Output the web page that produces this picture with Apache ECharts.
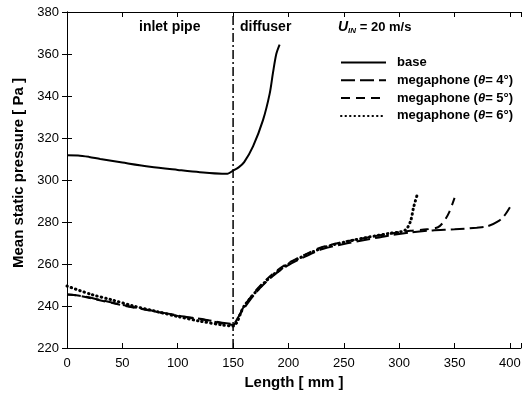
<!DOCTYPE html>
<html><head><meta charset="utf-8">
<script src="https://cdn.jsdelivr.net/npm/echarts@6/dist/echarts.min.js"></script>
<style>html,body{margin:0;padding:0;background:#fff}#c{width:530px;height:401px}</style>
</head><body><div id="c"></div>
<script>
// ---- data ----
const baseX = [0,10,20,30,50,75,100,120,140,145,150,155,160,168,177,183,186,189,192];
const baseY = [311.8,311.7,311,310,308.3,306.3,304.8,303.7,303,303,304.5,306,308.5,316,328.5,341,351,360,364.5];

const m4X = [0,10,25,50,75,100,125,140,150,155,160,170,180,190,200,215,230,250,270,290,310,330,350,370,380,390,395,400];
const m4Y = [245.5,245,243.5,240.5,238,235.5,233.5,232,231.5,235,239,246,251.5,256,259.5,263.5,267,269.5,271.5,273.5,275,276,276.5,277.3,278,280.5,283,287];

const m5X = [0,10,25,50,75,100,125,140,150,155,160,170,180,190,200,215,230,250,270,290,310,325,335,340,345,350];
const m5Y = [245.5,245,243.3,240.3,237.8,235.3,233.3,231.8,231,235,240,247,252.5,257,260.5,264.5,268,270.5,272.5,274.3,275.8,276.5,277.5,280,284.5,291.5];

const m6X = [0,22,40,60,80,100,120,140,150,160,180,200,230,260,290,305,310,313,316];
const m6Y = [249.5,245.5,243,240,237.5,235,232.8,231,230.5,240,252,260,267.5,271.5,274.5,276,280,287,292.5];

const divX = [150,150];
const divY = [220,380];

const xTicks = [0,50,100,150,200,250,300,350,400];
const yTicks = [220,240,260,280,300,320,340,360,380];

const seriesNames = ['base','megaphone (θ= 4°)','megaphone (θ= 5°)','megaphone (θ= 6°)'];

const zip = (a,b)=>a.map((v,i)=>[v,b[i]]);

const chart = echarts.init(document.getElementById('c'));
const FF = '"Liberation Sans", Arial, sans-serif';
const axisCommon = {
  axisLine:{show:true,lineStyle:{color:'#000',width:1}},
  axisTick:{show:true,inside:true,length:5,lineStyle:{color:'#000'}},
  splitLine:{show:false}
};
chart.setOption({
  animation:false,
  backgroundColor:'#fff',
  color:['#000','#000','#000','#000','#000'],
  textStyle:{fontFamily:FF},
  grid:{left:67,right:9,top:12,bottom:53},
  xAxis:[{
    type:'value',min:0,max:410,interval:50,
    ...axisCommon,
    axisLabel:{color:'#000',fontSize:13,fontFamily:FF,margin:9,
      formatter:v=>xTicks.includes(v)?String(v):''},
    name:'Length [ mm ]',nameLocation:'middle',nameGap:27,
    nameTextStyle:{color:'#000',fontSize:15,fontWeight:'bold',fontFamily:FF}
  },{
    type:'value',min:0,max:410,interval:50,position:'top',
    ...axisCommon,axisLabel:{show:false}
  }],
  yAxis:[{
    type:'value',min:220,max:380,interval:20,
    ...axisCommon,
    axisLabel:{color:'#000',fontSize:13,fontFamily:FF,margin:8,
      formatter:v=>yTicks.includes(v)?String(v):''},
    name:'Mean static pressure [ Pa ]',nameLocation:'middle',nameGap:36,
    nameTextStyle:{color:'#000',fontSize:15,fontWeight:'bold',fontFamily:FF,padding:[0,0,0,14]}
  },{
    type:'value',min:220,max:380,interval:20,position:'right',
    ...axisCommon,axisLabel:{show:false}
  }],
  legend:{
    data:seriesNames,
    orient:'vertical',left:335,top:51,
    itemWidth:45,itemHeight:12,itemGap:4.8,
    itemStyle:{color:'transparent',borderColor:'transparent',borderWidth:0},
    formatter:n=>{
      const m=n.match(/^(megaphone \()θ(= \d°\))$/);
      if(m) return '{n|'+m[1]+'}{i|θ}{n|'+m[2]+'}';
      return '{n|'+n+'}';
    },
    textStyle:{color:'#000',fontSize:13,fontFamily:FF,padding:[0,0,0,6],
      rich:{n:{fontWeight:'bold',fontSize:13,fontFamily:FF,color:'#000'},
            i:{fontWeight:'bold',fontStyle:'italic',fontSize:13,fontFamily:FF,color:'#000'}}}
  },
  graphic:[
    {type:'text',left:139,top:20,style:{text:'inlet pipe',font:'bold 14px "Liberation Sans", Arial',fill:'#000'}},
    {type:'text',left:240,top:20,style:{text:'diffuser',font:'bold 14px "Liberation Sans", Arial',fill:'#000'}},
    {type:'text',left:338,top:20,style:{
      rich:{u:{font:'bold italic 14px "Liberation Sans", Arial',fill:'#000'},
            s:{font:'bold italic 8px "Liberation Sans", Arial',fill:'#000',padding:[8,0,0,0]},
            t:{font:'bold 13px "Liberation Sans", Arial',fill:'#000'}},
      text:'{u|U}{s|IN}{t| = 20 m/s}'}}
  ],
  series:[
    {name:'base',type:'line',data:zip(baseX,baseY),symbol:'none',smooth:0.3,
      lineStyle:{color:'#000',width:2}},
    {name:seriesNames[1],type:'line',data:zip(m4X,m4Y),symbol:'none',smooth:0.3,
      lineStyle:{color:'#000',width:2,type:[14,5]}},
    {name:seriesNames[2],type:'line',data:zip(m5X,m5Y),symbol:'none',smooth:0.3,
      lineStyle:{color:'#000',width:2,type:[9,6]}},
    {name:seriesNames[3],type:'line',data:zip(m6X,m6Y),symbol:'none',smooth:0.3,
      lineStyle:{color:'#000',width:3,type:[0.5,4],cap:'round'}},
    {name:'divider',type:'line',data:zip(divX,divY),symbol:'none',silent:true,
      lineStyle:{color:'#000',width:1.5,type:[9,3,2,3]}}
  ]
});
</script></body></html>
